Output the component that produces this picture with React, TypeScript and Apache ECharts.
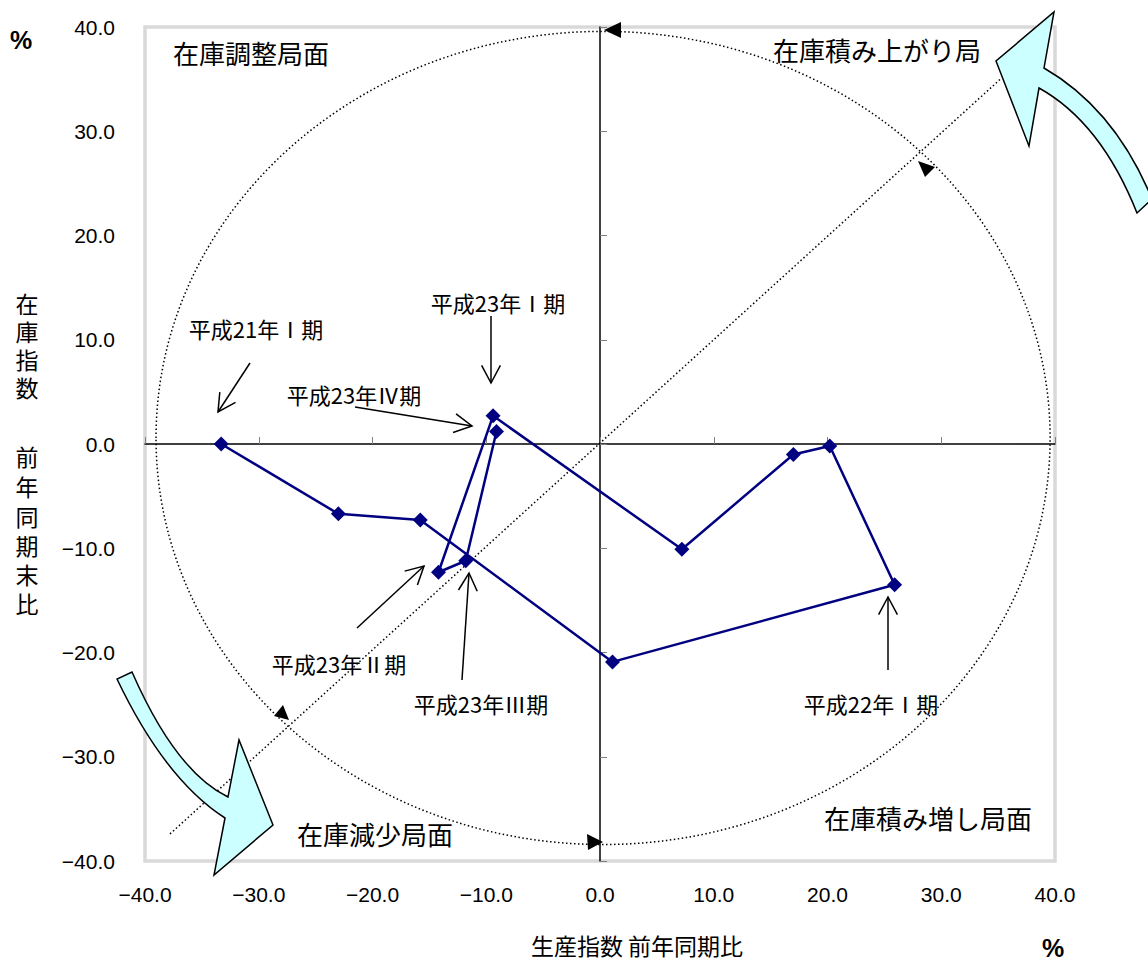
import React, { useEffect, useRef } from "react";
import * as echarts from "echarts";

// ---------- data ----------
const periods = [
  "平成21年Ⅰ期", "平成21年Ⅱ期", "平成21年Ⅲ期", "平成21年Ⅳ期",
  "平成22年Ⅰ期", "平成22年Ⅱ期", "平成22年Ⅲ期", "平成22年Ⅳ期",
  "平成23年Ⅰ期", "平成23年Ⅱ期", "平成23年Ⅲ期", "平成23年Ⅳ期",
];
// 生産指数 前年同期比 (%)
const productionYoY = [-33.3, -23.0, -15.8, 1.1, 25.9, 20.2, 17.0, 7.2, -9.4, -14.2, -11.8, -9.1];
// 在庫指数 前年同期末比 (%)
const inventoryYoY = [0.0, -6.7, -7.3, -20.9, -13.5, -0.2, -1.0, -10.1, 2.7, -12.3, -11.2, 1.2];

const axisMin = -40;
const axisMax = 40;
const axisStep = 10;

const quadrantLabels = ["在庫調整局面", "在庫積み上がり局", "在庫減少局面", "在庫積み増し局面"];
const annotatedPeriods = ["平成21年Ⅰ期", "平成23年Ⅰ期", "平成23年Ⅳ期", "平成23年Ⅱ期", "平成23年Ⅲ期", "平成22年Ⅰ期"];

const yTitleTop = "在庫指数";
const yTitleBottom = "前年同期末比";
const xTitle = "生産指数 前年同期比";
const unitLabel = "%";

// reference guides (data units)
const diagonalLine = [[-37.8, -37.4], [35.2, 35.0]];
const cycleEllipse = { cx: 0.27, cy: 0.58, rx: 39.3, ry: 39.0 };

// ---------- layout (pixels) ----------
const quadrantPos = [[251, 52], [877, 49], [375, 833], [928, 817]];
const annotationLayout = [
  { text: [256, 328], from: [250, 363], to: [218, 412] },
  { text: [498, 302], from: [491, 316], to: [491, 383] },
  { text: [354, 394], from: [355, 407], to: [472, 426] },
  { text: [339, 663], from: [357, 628], to: [424, 566] },
  { text: [481, 703], from: [462, 680], to: [469, 573] },
  { text: [871, 703], from: [888, 670], to: [888, 597] },
];
const ellipseArrowHeads = [
  [[604, 30], [621, 22], [621, 38]],
  [[603, 842], [587, 834], [588, 850]],
  [[918, 161], [935, 167], [925, 177]],
  [[289, 720], [274, 716], [283, 705]],
];
const yTitleTopY = [303, 331, 359, 387];
const yTitleBottomY = [456, 486, 516, 545, 574, 603];

const CJK = '"Noto Sans CJK JP", "Noto Sans", sans-serif';
const LATIN = '"Liberation Sans", Arial, sans-serif';

let shapesRegistered = false;
function registerShapes() {
  if (shapesRegistered) return;
  shapesRegistered = true;
  const top = echarts.graphic.extendPath(
    "M1137 213 Q1101 122.5 1039 88 L1029 146 L996 61 L1054 12 L1044 68 Q1115 109 1152 199 Z",
    {}
  );
  const bottom = echarts.graphic.extendPath(
    "M117 679 Q165 779.5 225 818 L214 875 L273 825 L239 740 L228 797 Q176 772 132 672 Z",
    {}
  );
  echarts.graphic.registerShape("cyanArrowTop", top);
  echarts.graphic.registerShape("cyanArrowBottom", bottom);
}

function arrowElements(from: number[], to: number[]) {
  const [x1, y1] = from;
  const [x2, y2] = to;
  const ang = Math.atan2(y2 - y1, x2 - x1);
  const L = 20;
  const a = (28 * Math.PI) / 180;
  const w1 = [x2 - L * Math.cos(ang - a), y2 - L * Math.sin(ang - a)];
  const w2 = [x2 - L * Math.cos(ang + a), y2 - L * Math.sin(ang + a)];
  return [
    { type: "line", shape: { x1, y1, x2, y2 }, style: { stroke: "#000", lineWidth: 1.5 }, z: 50 },
    {
      type: "polyline",
      shape: { points: [w1, [x2, y2], w2] },
      style: { stroke: "#000", lineWidth: 1.5, fill: null },
      z: 50,
    },
  ];
}

function fmt(v: number) {
  const s = Math.abs(v).toFixed(1);
  return v < 0 ? "\u2212" + s : s;
}

function cjkText(t: string, x: number, y: number, size: number, lineHeight?: number) {
  const style: any = { text: t, fontSize: size, fontFamily: CJK, fill: "#000", align: "center", verticalAlign: "middle" };
  if (lineHeight) style.lineHeight = lineHeight;
  return { type: "text", x, y, z: 50, style };
}

function buildOption() {
  const points = productionYoY.map((x, i) => [x, inventoryYoY[i]]);

  const graphics: any[] = [];

  quadrantLabels.forEach((t, i) => {
    graphics.push(cjkText(t, quadrantPos[i][0], quadrantPos[i][1], 26));
  });

  annotatedPeriods.forEach((t, i) => {
    const l = annotationLayout[i];
    graphics.push(cjkText(t, l.text[0], l.text[1], 22));
    graphics.push(...arrowElements(l.from, l.to));
  });

  ellipseArrowHeads.forEach((pts) => {
    graphics.push({ type: "polygon", shape: { points: pts }, style: { fill: "#000" }, z: 40 });
  });

  graphics.push({
    type: "cyanArrowTop",
    z: 60,
    style: { fill: "#ccffff", stroke: "#000", lineWidth: 1.5, lineJoin: "miter" },
  });
  graphics.push({
    type: "cyanArrowBottom",
    z: 60,
    style: { fill: "#ccffff", stroke: "#000", lineWidth: 1.5, lineJoin: "miter" },
  });

  yTitleTop.split("").forEach((ch, i) => graphics.push(cjkText(ch, 27, yTitleTopY[i], 23, 25)));
  yTitleBottom.split("").forEach((ch, i) => graphics.push(cjkText(ch, 27, yTitleBottomY[i], 23, 25)));

  graphics.push(cjkText(xTitle, 637, 945, 23));
  graphics.push({
    type: "text",
    x: 21,
    y: 40,
    z: 50,
    style: { text: unitLabel, fontSize: 25, fontWeight: "bold", fontFamily: LATIN, fill: "#000", align: "center", verticalAlign: "middle" },
  });
  graphics.push({
    type: "text",
    x: 1053,
    y: 948,
    z: 50,
    style: { text: unitLabel, fontSize: 25, fontWeight: "bold", fontFamily: LATIN, fill: "#000", align: "center", verticalAlign: "middle" },
  });

  const labelAxisCommon = {
    type: "value",
    min: axisMin,
    max: axisMax,
    interval: axisStep,
    axisLine: { show: false, onZero: false },
    axisTick: { show: false },
    splitLine: { show: false },
  };
  const lineAxisCommon = {
    type: "value",
    min: axisMin,
    max: axisMax,
    interval: axisStep,
    axisLine: { show: true, onZero: true, lineStyle: { color: "#000", width: 1.5 } },
    axisTick: { show: true, inside: true, length: 7, lineStyle: { color: "#808080", width: 1 } },
    axisLabel: { show: false },
    splitLine: { show: false },
  };

  return {
    animation: false,
    backgroundColor: "#ffffff",
    grid: {
      left: 145,
      top: 27,
      width: 910,
      height: 834,
      show: true,
      borderColor: "#d9d9d9",
      borderWidth: 3.5,
      backgroundColor: "transparent",
    },
    xAxis: [
      {
        ...labelAxisCommon,
        position: "bottom",
        axisLabel: {
          show: true,
          margin: 23,
          fontSize: 21,
          fontFamily: LATIN,
          color: "#000",
          formatter: (v: number) => fmt(v),
        },
      },
      { ...lineAxisCommon, position: "bottom" },
    ],
    yAxis: [
      {
        ...labelAxisCommon,
        position: "left",
        axisLabel: {
          show: true,
          margin: 30,
          fontSize: 21,
          fontFamily: LATIN,
          color: "#000",
          formatter: (v: number) => fmt(v),
        },
      },
      { ...lineAxisCommon, position: "left" },
    ],
    graphic: graphics,
    series: [
      {
        type: "custom",
        name: "cycle",
        coordinateSystem: "cartesian2d",
        xAxisIndex: 0,
        yAxisIndex: 0,
        silent: true,
        z: 1,
        data: [[cycleEllipse.cx, cycleEllipse.cy]],
        renderItem: (params: any, api: any) => {
          const c = api.coord([cycleEllipse.cx, cycleEllipse.cy]);
          const r = api.coord([cycleEllipse.cx + cycleEllipse.rx, cycleEllipse.cy + cycleEllipse.ry]);
          return {
            type: "ellipse",
            shape: { cx: c[0], cy: c[1], rx: r[0] - c[0], ry: c[1] - r[1] },
            style: { fill: "none", stroke: "#000", lineWidth: 1.5, lineDash: [1.5, 2.5] },
          };
        },
      },
      {
        type: "line",
        name: "diagonal",
        xAxisIndex: 0,
        yAxisIndex: 0,
        silent: true,
        z: 1,
        symbol: "none",
        data: diagonalLine,
        lineStyle: { color: "#000", width: 1.5, type: [1.5, 2.5] },
      },
      {
        type: "line",
        name: "在庫循環",
        xAxisIndex: 0,
        yAxisIndex: 0,
        z: 5,
        data: points.map((p, i) => ({ value: p, name: periods[i] })),
        symbol: "diamond",
        symbolSize: 15,
        itemStyle: { color: "#000080" },
        lineStyle: { color: "#000080", width: 2.5 },
      },
    ],
  };
}

export default function App() {
  const ref = useRef<HTMLDivElement>(null);
  useEffect(() => {
    if (!ref.current) return;
    registerShapes();
    const chart = echarts.init(ref.current, null, { renderer: "svg" });
    chart.setOption(buildOption() as any);
    return () => {
      chart.dispose();
    };
  }, []);
  return (
    <div
      ref={ref}
      style={{ position: "fixed", left: 0, top: 0, width: 1148, height: 961, background: "#fff" }}
    />
  );
}
